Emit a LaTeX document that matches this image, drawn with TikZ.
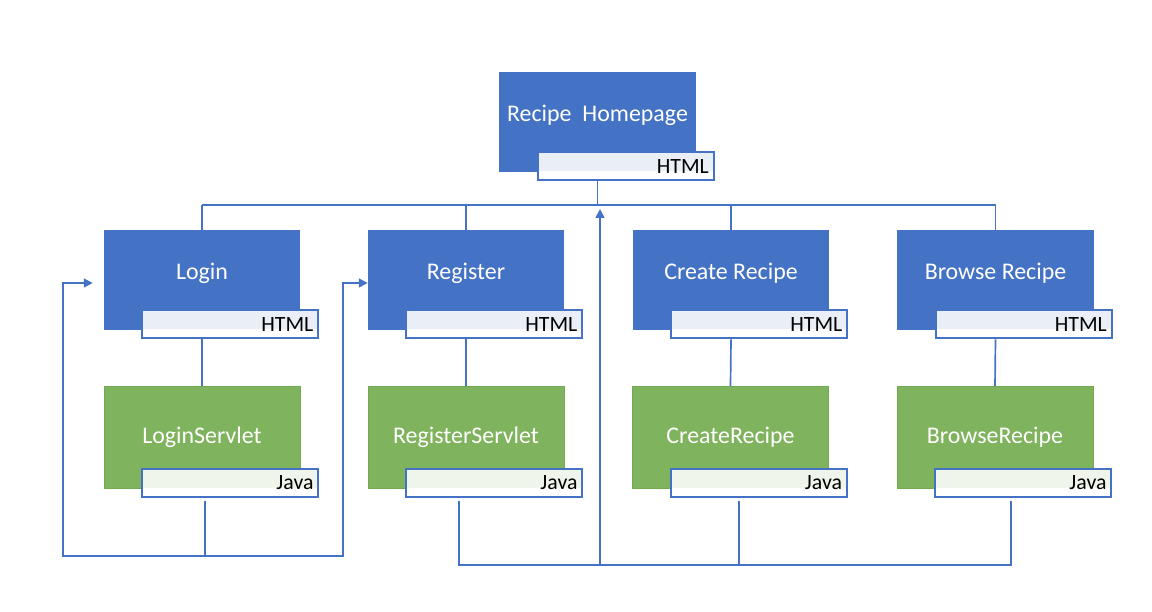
\documentclass[tikz,border=0pt]{standalone}
\usepackage{fontspec}
\setmainfont{Carlito}
\usepackage{xcolor}
\usetikzlibrary{positioning,arrows.meta}

\definecolor{pageblue}{RGB}{68,114,196}
\definecolor{servgreen}{RGB}{127,179,93}
\definecolor{servedge}{RGB}{113,170,80}
\definecolor{htmlfill}{RGB}{234,239,247}
\definecolor{javafill}{RGB}{240,245,236}

\begin{document}
\begin{tikzpicture}[x=0.025cm, y=-0.025cm,
    page/.style={rectangle, fill=pageblue, minimum width=4.9cm, minimum height=2.5cm, inner sep=0pt},
    pagetext/.style={text=white, font=\fontsize{17}{20}\selectfont, yshift=0.16cm},
    servlet/.style={rectangle, fill=servgreen, draw=servedge, line width=0.6pt, minimum width=4.9cm, minimum height=2.55cm, inner sep=0pt, text=white, font=\fontsize{17}{20}\selectfont},
    tagbox/.style={rectangle, draw=pageblue, line width=1.4pt, fill=white, minimum height=0.7cm, text width=4.15cm, inner xsep=0.125cm, inner ysep=0pt, align=right, font=\fontsize{15.5}{18}\selectfont, anchor=south east, xshift=0.475cm, yshift=-0.225cm},
    htmltag/.style={tagbox, path picture={\fill[htmlfill] (path picture bounding box.north west) rectangle ([yshift=0.225cm]path picture bounding box.south east);}},
    javatag/.style={tagbox, path picture={\fill[javafill] (path picture bounding box.north west) rectangle ([yshift=0.225cm]path picture bounding box.south east);}},
    link/.style={draw=pageblue, line width=1.2pt},
    flow/.style={link, -{Triangle[length=0.22cm, width=0.22cm]}}
]
    \useasboundingbox (0,0) rectangle (1152,612);

    % pages
    \node[page, label={[pagetext]center:Recipe\ \ Homepage}] (home) at (597.5,122) {};
    \node[htmltag] (home-tag) at (home.south east) {HTML};

    \node[page, label={[pagetext]center:Login}] (login) at (202,280) {};
    \node[page, label={[pagetext]center:Register}] (register) at (466,280) {};
    \node[page, label={[pagetext]center:Create Recipe}] (create) at (731,280) {};
    \node[page, label={[pagetext]center:Browse Recipe}] (browse) at (995.5,280) {};
    \foreach \n in {login,register,create,browse}
        \node[htmltag] (\n-tag) at (\n.south east) {HTML};

    % servlets
    \node[servlet] (login-srv) at (202,437.5) {LoginServlet};
    \node[servlet] (register-srv) at (466,437.5) {RegisterServlet};
    \node[servlet] (create-srv) at (730.5,437.5) {CreateRecipe};
    \node[servlet] (browse-srv) at (995,437.5) {BrowseRecipe};
    \foreach \n in {login,register,create,browse}
        \node[javatag] (\n-jtag) at (\n-srv.south east) {Java};

    % tree
    \coordinate (bus) at (0,205);
    \draw[link] (home |- home-tag.south) -- (home |- bus);
    \draw[link] (login |- bus) -- (browse |- bus);
    \foreach \n in {login,register,create,browse} {
        \draw[link] (\n |- bus) -- (\n.north);
        \draw[link] (\n |- \n-tag.south) -- (\n-srv.north);
    }

    % back from LoginServlet
    \coordinate (loop) at (205,556);
    \coordinate (backL) at (63,283);
    \coordinate (backR) at (343,283);
    \draw[link] ([yshift=-2pt]loop |- login-jtag.south) -- (loop);
    \draw[flow, shorten >=0.275cm] (loop) -| (backL) -- (backL -| login.west);
    \draw[flow] (loop) -| (backR) -- (backR -| register.west);

    % back to homepage
    \coordinate (base) at (0,565);
    \coordinate (rs-out) at (459,501);
    \coordinate (cr-out) at (739,501);
    \coordinate (br-out) at (1011,501);
    \coordinate (up) at (600,565);
    \draw[link] (rs-out) |- (br-out |- base) -- (br-out);
    \draw[link] (cr-out) -- (cr-out |- base);
    \draw[flow, shorten >=0.1cm] (up) -- (up |- bus);
\end{tikzpicture}
\end{document}
